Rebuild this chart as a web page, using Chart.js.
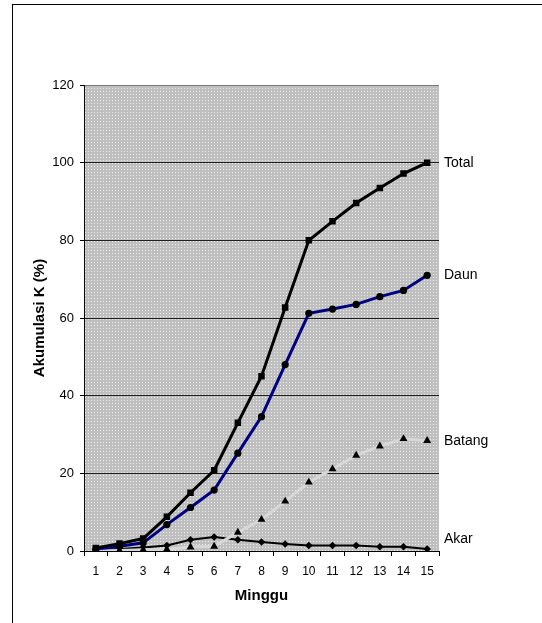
<!DOCTYPE html>
<html>
<head>
<meta charset="utf-8">
<script src="https://cdn.jsdelivr.net/npm/chart.js@4/dist/chart.umd.min.js"></script>
<style>
  html, body { margin: 0; padding: 0; background: #fff; }
  canvas { display: block; }
</style>
</head>
<body>
<canvas id="c" width="542" height="623"></canvas>
<script>
// Weeks after planting
const weeks = ['1','2','3','4','5','6','7','8','9','10','11','12','13','14','15'];

// Cumulative K uptake (% of final total) per plant part
const total  = [0.8, 1.9, 3.2, 8.8, 15.0, 20.8, 33.0, 45.0, 62.7, 80.0, 84.9, 89.6, 93.5, 97.2, 100.0];
const daun   = [0.5, 1.2, 2.1, 6.8, 11.2, 15.7, 25.2, 34.6, 48.0, 61.2, 62.3, 63.5, 65.5, 67.1, 71.0];
const batang = [0.0, 0.1, 0.3, 0.4, 1.0, 1.2, 4.8, 8.1, 12.8, 17.7, 21.1, 24.6, 27.0, 28.9, 28.4];
const akar   = [0.3, 0.5, 0.9, 1.4, 2.9, 3.6, 2.9, 2.3, 1.8, 1.4, 1.4, 1.4, 1.1, 1.1, 0.5];

const seriesNames = ['Total', 'Daun', 'Batang', 'Akar'];
const yTicks = [0, 20, 40, 60, 80, 100, 120];

const FONT = '"Liberation Sans", Arial, sans-serif';

// dotted grey fill for the plot area
function makePattern() {
  const t = document.createElement('canvas');
  t.width = 3; t.height = 3;
  const g = t.getContext('2d');
  g.fillStyle = '#bfbfbf';
  g.fillRect(0, 0, 3, 3);
  g.fillStyle = '#ececec';
  g.fillRect(1, 1, 1, 1);
  return g.createPattern(t, 'repeat');
}

const plotBackground = {
  id: 'plotBackground',
  beforeDraw(chart) {
    const { ctx, chartArea: a } = chart;
    ctx.save();
    ctx.fillStyle = makePattern();
    ctx.fillRect(a.left, a.top, a.right - a.left, a.bottom - a.top);
    ctx.restore();
  }
};

// series names written to the right of each line's last point
const endLabels = {
  id: 'endLabels',
  afterDatasetsDraw(chart) {
    const { ctx, chartArea: a } = chart;
    const ys = chart.scales.y;
    ctx.save();
    ctx.font = '14px ' + FONT;
    ctx.fillStyle = '#000';
    ctx.textAlign = 'left';
    ctx.textBaseline = 'middle';
    chart.data.datasets.forEach((ds, i) => {
      const last = ds.data[ds.data.length - 1];
      let y = ys.getPixelForValue(last);
      if (ds.label === 'Akar') y -= 10;
      ctx.fillText(ds.label, a.right + 5, y);
    });
    ctx.restore();
  }
};

const frame = {
  id: 'frame',
  afterDraw(chart) {
    const { ctx } = chart;
    ctx.save();
    ctx.strokeStyle = '#000';
    ctx.lineWidth = 1;
    ctx.strokeRect(12.5, 4.5, 700, 800);
    ctx.restore();
  }
};

new Chart(document.getElementById('c'), {
  type: 'line',
  data: {
    labels: weeks,
    datasets: [
      {
        label: seriesNames[0], data: total,
        borderColor: '#000', borderWidth: 3,
        pointStyle: 'rect', pointRadius: 4.6,
        pointBackgroundColor: '#000', pointBorderColor: '#000', pointBorderWidth: 0,
        tension: 0, order: 1
      },
      {
        label: seriesNames[1], data: daun,
        borderColor: '#000080', borderWidth: 3,
        pointStyle: 'circle', pointRadius: 3.6,
        pointBackgroundColor: '#000', pointBorderColor: '#000', pointBorderWidth: 0,
        tension: 0, order: 2
      },
      {
        label: seriesNames[2], data: batang,
        borderColor: '#d8d8d8', borderWidth: 3,
        pointStyle: 'triangle', pointRadius: 4.6,
        pointBackgroundColor: '#000', pointBorderColor: '#000', pointBorderWidth: 0,
        tension: 0, order: 3
      },
      {
        label: seriesNames[3], data: akar,
        borderColor: '#000', borderWidth: 2,
        pointStyle: 'rectRot', pointRadius: 3.8,
        pointBackgroundColor: '#000', pointBorderColor: '#000', pointBorderWidth: 0,
        tension: 0, order: 4
      }
    ]
  },
  options: {
    responsive: false,
    animation: false,
    devicePixelRatio: 1,
    layout: { padding: { top: 85, right: 103, left: 0, bottom: 0 } },
    plugins: {
      legend: { display: false },
      tooltip: { enabled: false }
    },
    scales: {
      x: {
        type: 'category',
        offset: true,
        grid: {
          offset: true, drawOnChartArea: false, drawTicks: true,
          tickLength: 5, tickColor: '#000', tickWidth: 1
        },
        border: { color: '#000', width: 1 },
        ticks: {
          color: '#000', padding: 8, maxRotation: 0, autoSkip: false,
          font: { family: FONT, size: 12 }
        },
        title: {
          display: true, text: 'Minggu', color: '#000',
          font: { family: FONT, size: 15, weight: 'bold' },
          padding: { top: 0, bottom: 18 }
        },
        afterFit(s) { s.height = 72; }
      },
      y: {
        min: 0, max: 120,
        afterBuildTicks(s) { s.ticks = yTicks.map(v => ({ value: v })); },
        grid: {
          color: c => (c.tick && c.tick.value === 120) ? '#7a7a7a' : '#1e1e1e',
          lineWidth: 1, tickLength: 4, tickColor: '#000', drawTicks: true
        },
        border: { color: '#000', width: 1 },
        ticks: {
          color: '#000', padding: 6,
          font: { family: FONT, size: 13 }
        },
        title: {
          display: true, text: 'Akumulasi K (%)', color: '#000',
          font: { family: FONT, size: 15, weight: 'bold' },
          padding: { top: 31, bottom: 0 }
        },
        afterFit(s) { s.width = 84; }
      }
    }
  },
  plugins: [plotBackground, endLabels, frame]
});
</script>
</body>
</html>
